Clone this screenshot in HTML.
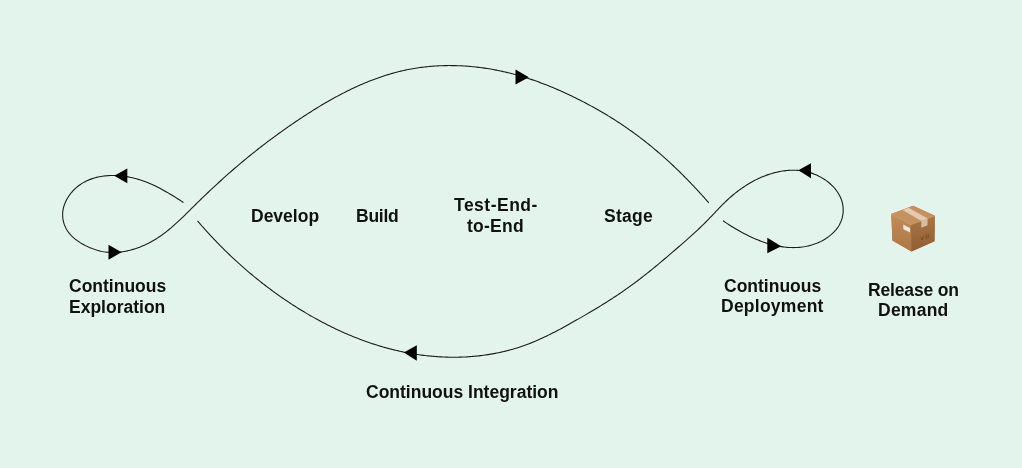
<!DOCTYPE html>
<html><head><meta charset="utf-8"><style>
html,body{margin:0;padding:0;}
body{width:1022px;height:468px;background:#e3f4ec;position:relative;overflow:hidden;font-family:"Liberation Sans",sans-serif;}
svg{position:absolute;left:0;top:0;}
.t{position:absolute;font-weight:bold;font-size:17.5px;line-height:21px;color:#111111;white-space:nowrap;will-change:transform;}
</style></head><body>
<svg width="1022" height="468" viewBox="0 0 1022 468">
<path d="M183.50 202.58L182.23 201.74L180.97 200.91L179.70 200.08L178.44 199.26L177.16 198.44L175.89 197.62L174.61 196.82L173.33 196.02L172.05 195.23L170.76 194.44L169.47 193.67L168.18 192.90L166.88 192.15L165.58 191.40L164.27 190.66L162.96 189.94L161.64 189.23L160.32 188.52L159.00 187.84L157.67 187.16L156.33 186.50L154.99 185.85L153.64 185.22L152.28 184.60L150.92 184.00L149.56 183.41L148.18 182.84L146.80 182.29L145.42 181.75L144.02 181.23L142.62 180.74L141.21 180.26L139.80 179.80L138.37 179.36L136.94 178.94L135.50 178.54L134.05 178.16L132.60 177.81L131.13 177.48L129.66 177.17L128.17 176.88L126.68 176.62L125.18 176.39L123.68 176.18L122.17 175.99L120.65 175.84L119.13 175.71L117.61 175.60L116.08 175.53L114.56 175.48L113.04 175.46L111.51 175.48L110.00 175.52L108.48 175.59L106.97 175.70L105.46 175.84L103.96 176.01L102.47 176.21L100.98 176.45L99.51 176.72L98.05 177.03L96.59 177.37L95.15 177.75L93.73 178.16L92.31 178.62L90.92 179.11L89.54 179.63L88.17 180.20L86.83 180.81L85.50 181.45L84.20 182.14L82.92 182.87L81.66 183.64L80.42 184.45L79.21 185.31L78.02 186.21L76.86 187.15L75.72 188.14L74.62 189.17L73.54 190.24L72.50 191.36L71.50 192.52L70.53 193.71L69.61 194.94L68.73 196.20L67.90 197.50L67.11 198.81L66.38 200.16L65.71 201.53L65.10 202.92L64.54 204.33L64.05 205.75L63.63 207.19L63.28 208.64L63.00 210.10L62.80 211.57L62.67 213.04L62.63 214.52L62.66 215.99L62.76 217.46L62.94 218.92L63.20 220.37L63.53 221.81L63.92 223.23L64.39 224.63L64.92 226.00L65.53 227.35L66.19 228.67L66.93 229.96L67.72 231.20L68.58 232.41L69.50 233.58L70.47 234.71L71.49 235.79L72.57 236.84L73.69 237.85L74.85 238.82L76.05 239.76L77.28 240.66L78.55 241.53L79.84 242.37L81.15 243.18L82.48 243.96L83.83 244.71L85.19 245.43L86.57 246.12L87.95 246.78L89.35 247.41L90.75 248.00L92.16 248.57L93.59 249.10L95.01 249.59L96.45 250.05L97.89 250.46L99.34 250.84L100.79 251.18L102.25 251.48L103.71 251.74L105.17 251.96L106.63 252.14L108.10 252.28L109.57 252.38L111.04 252.44L112.52 252.47L113.99 252.47L115.47 252.42L116.94 252.35L118.42 252.24L119.89 252.09L121.37 251.91L122.84 251.70L124.32 251.46L125.79 251.19L127.26 250.89L128.72 250.56L130.18 250.20L131.64 249.81L133.09 249.39L134.54 248.94L135.98 248.47L137.41 247.98L138.84 247.46L140.26 246.91L141.66 246.34L143.06 245.75L144.45 245.13L145.83 244.50L147.20 243.84L148.56 243.16L149.90 242.46L151.24 241.74L152.55 241.00L153.86 240.25L155.15 239.48L156.42 238.69L157.68 237.88L158.93 237.06L160.16 236.23L161.38 235.38L162.59 234.51L163.79 233.63L164.97 232.74L166.15 231.84L167.31 230.92L168.47 229.99L169.62 229.05L170.75 228.10L171.88 227.14L173.00 226.17L174.11 225.20L175.22 224.21L176.32 223.21L177.41 222.21L178.50 221.20L179.59 220.18L180.67 219.16L181.74 218.13L182.81 217.10L183.88 216.06L184.95 215.02L186.01 213.98L187.07 212.93L188.13 211.88L189.19 210.83L190.25 209.77L191.31 208.72L192.37 207.67L193.43 206.61L194.50 205.56L195.56 204.50L196.63 203.45L197.70 202.40L198.77 201.35L199.85 200.31L200.93 199.26L202.01 198.22L203.09 197.17L204.17 196.13L205.26 195.09L206.35 194.06L207.44 193.02L208.53 191.98L209.62 190.95L210.72 189.92L211.82 188.89L212.92 187.86L214.02 186.84L215.12 185.82L216.23 184.80L217.34 183.78L218.45 182.76L219.56 181.74L220.68 180.73L221.79 179.72L222.91 178.71L224.03 177.71L225.15 176.70L226.28 175.70L227.40 174.70L228.53 173.71L229.66 172.71L230.79 171.72L231.93 170.73L233.06 169.75L234.20 168.76L235.34 167.78L236.48 166.81L237.62 165.83L238.76 164.86L239.91 163.89L241.06 162.92L242.21 161.96L243.36 161.00L244.51 160.04L245.66 159.09L246.82 158.14L247.98 157.19L249.14 156.24L250.30 155.30L251.46 154.36L252.62 153.43L253.79 152.49L254.96 151.56L256.13 150.64L257.30 149.71L258.47 148.79L259.64 147.87L260.82 146.96L262.00 146.05L263.18 145.14L264.36 144.23L265.55 143.33L266.73 142.43L267.92 141.53L269.11 140.63L270.31 139.74L271.50 138.85L272.70 137.97L273.90 137.08L275.10 136.20L276.30 135.32L277.51 134.44L278.72 133.57L279.93 132.70L281.14 131.83L282.35 130.96L283.57 130.09L284.79 129.23L286.01 128.37L287.24 127.52L288.46 126.66L289.69 125.81L290.93 124.96L292.16 124.11L293.40 123.26L294.64 122.42L295.88 121.58L297.13 120.74L298.38 119.90L299.63 119.06L300.88 118.23L302.14 117.40L303.39 116.57L304.66 115.75L305.92 114.93L307.19 114.11L308.46 113.30L309.73 112.48L311.00 111.68L312.28 110.87L313.56 110.07L314.84 109.27L316.13 108.48L317.41 107.69L318.70 106.90L320.00 106.12L321.29 105.34L322.59 104.57L323.89 103.80L325.20 103.03L326.50 102.27L327.81 101.52L329.12 100.77L330.44 100.02L331.75 99.28L333.07 98.55L334.40 97.82L335.72 97.09L337.05 96.38L338.38 95.66L339.71 94.95L341.05 94.25L342.39 93.56L343.73 92.87L345.07 92.18L346.42 91.51L347.76 90.84L349.12 90.17L350.47 89.51L351.83 88.86L353.19 88.22L354.55 87.58L355.91 86.95L357.28 86.33L358.65 85.71L360.02 85.10L361.40 84.50L362.77 83.91L364.15 83.32L365.54 82.74L366.92 82.17L368.31 81.61L369.70 81.06L371.10 80.51L372.49 79.97L373.89 79.44L375.29 78.92L376.70 78.41L378.10 77.91L379.51 77.41L380.92 76.93L382.34 76.45L383.76 75.98L385.18 75.52L386.60 75.07L388.02 74.63L389.45 74.21L390.88 73.78L392.31 73.37L393.75 72.97L395.19 72.58L396.63 72.20L398.07 71.83L399.52 71.47L400.97 71.12L402.42 70.79L403.87 70.46L405.33 70.14L406.79 69.83L408.25 69.54L409.72 69.25L411.18 68.98L412.65 68.72L414.12 68.47L415.60 68.22L417.07 67.99L418.55 67.77L420.03 67.57L421.52 67.37L423.00 67.18L424.49 67.00L425.97 66.84L427.46 66.68L428.95 66.53L430.44 66.40L431.94 66.27L433.43 66.16L434.93 66.06L436.43 65.96L437.93 65.88L439.42 65.81L440.93 65.74L442.43 65.69L443.93 65.65L445.43 65.61L446.93 65.59L448.44 65.57L449.94 65.57L451.45 65.58L452.95 65.59L454.46 65.62L455.96 65.66L457.47 65.70L458.97 65.76L460.48 65.82L461.98 65.89L463.49 65.98L464.99 66.07L466.50 66.17L468.00 66.28L469.51 66.41L471.01 66.54L472.51 66.68L474.01 66.82L475.51 66.98L477.01 67.15L478.51 67.33L480.01 67.51L481.50 67.71L483.00 67.91L484.49 68.12L485.98 68.34L487.47 68.57L488.96 68.81L490.45 69.06L491.93 69.32L493.42 69.58L494.90 69.86L496.38 70.14L497.86 70.43L499.33 70.73L500.81 71.04L502.28 71.35L503.75 71.68L505.21 72.01L506.68 72.35L508.14 72.70L509.60 73.06L511.06 73.43L512.51 73.80L513.96 74.19L515.41 74.58L516.85 74.97L518.30 75.38L519.73 75.80L521.17 76.22L522.61 76.65L524.04 77.08L525.47 77.53L526.89 77.98L528.32 78.44L529.74 78.91L531.16 79.38L532.58 79.86L533.99 80.35L535.40 80.84L536.81 81.34L538.22 81.85L539.62 82.36L541.02 82.89L542.42 83.41L543.82 83.95L545.21 84.49L546.61 85.03L548.00 85.59L549.38 86.15L550.77 86.71L552.15 87.28L553.53 87.86L554.91 88.44L556.29 89.03L557.66 89.62L559.03 90.22L560.40 90.83L561.77 91.44L563.13 92.05L564.50 92.68L565.86 93.30L567.21 93.93L568.57 94.57L569.92 95.21L571.28 95.86L572.63 96.51L573.97 97.16L575.32 97.82L576.66 98.49L578.01 99.16L579.35 99.83L580.68 100.51L582.02 101.19L583.35 101.88L584.68 102.58L586.01 103.27L587.34 103.97L588.66 104.68L589.98 105.39L591.30 106.11L592.62 106.83L593.93 107.56L595.24 108.29L596.55 109.02L597.86 109.76L599.16 110.50L600.46 111.25L601.76 112.01L603.05 112.77L604.34 113.53L605.63 114.30L606.92 115.07L608.20 115.85L609.48 116.63L610.76 117.42L612.04 118.21L613.31 119.01L614.58 119.82L615.84 120.62L617.10 121.44L618.36 122.25L619.62 123.07L620.87 123.90L622.12 124.73L623.36 125.57L624.60 126.41L625.84 127.26L627.08 128.11L628.31 128.97L629.54 129.83L630.76 130.70L631.98 131.57L633.20 132.45L634.41 133.33L635.62 134.22L636.83 135.11L638.03 136.01L639.23 136.91L640.42 137.82L641.62 138.73L642.80 139.64L643.99 140.56L645.17 141.49L646.34 142.42L647.52 143.35L648.69 144.29L649.85 145.24L651.02 146.19L652.18 147.14L653.33 148.10L654.48 149.06L655.63 150.02L656.78 150.99L657.92 151.97L659.06 152.94L660.19 153.93L661.32 154.91L662.45 155.90L663.58 156.90L664.70 157.89L665.81 158.90L666.93 159.90L668.04 160.91L669.14 161.93L670.25 162.94L671.35 163.96L672.45 164.99L673.54 166.02L674.63 167.05L675.72 168.08L676.80 169.12L677.88 170.17L678.96 171.21L680.03 172.26L681.10 173.31L682.17 174.37L683.23 175.43L684.29 176.49L685.35 177.56L686.40 178.62L687.45 179.70L688.50 180.77L689.54 181.85L690.58 182.93L691.62 184.01L692.65 185.10L693.68 186.19L694.71 187.28L695.73 188.37L696.76 189.47L697.77 190.57L698.79 191.67L699.80 192.78L700.81 193.89L701.81 195.00L702.81 196.11L703.81 197.23L704.81 198.34L705.80 199.46L706.79 200.59L707.78 201.71L708.76 202.84" fill="none" stroke="#1c1c1c" stroke-width="1.1" stroke-linecap="butt" stroke-linejoin="round"/>
<path d="M723.00 220.77L724.16 221.56L725.32 222.34L726.51 223.13L727.70 223.91L728.91 224.70L730.13 225.47L731.36 226.25L732.61 227.02L733.86 227.79L735.13 228.55L736.41 229.30L737.70 230.05L739.00 230.79L740.32 231.52L741.64 232.25L742.97 232.96L744.31 233.67L745.66 234.36L747.02 235.05L748.39 235.72L749.76 236.38L751.14 237.03L752.54 237.66L753.93 238.29L755.34 238.89L756.75 239.48L758.17 240.06L759.59 240.62L761.02 241.16L762.46 241.68L763.90 242.19L765.34 242.68L766.79 243.15L768.25 243.60L769.71 244.02L771.17 244.43L772.63 244.82L774.10 245.18L775.57 245.52L777.05 245.84L778.52 246.13L780.00 246.40L781.48 246.64L782.96 246.85L784.44 247.04L785.92 247.20L787.40 247.34L788.88 247.44L790.36 247.52L791.85 247.57L793.33 247.59L794.80 247.57L796.28 247.53L797.76 247.45L799.23 247.34L800.70 247.20L802.17 247.02L803.63 246.81L805.10 246.56L806.55 246.28L808.01 245.96L809.46 245.61L810.90 245.21L812.34 244.78L813.78 244.31L815.21 243.81L816.63 243.26L818.04 242.67L819.44 242.04L820.83 241.38L822.20 240.68L823.54 239.94L824.87 239.16L826.17 238.34L827.44 237.49L828.68 236.60L829.89 235.67L831.06 234.70L832.20 233.70L833.29 232.67L834.34 231.60L835.34 230.49L836.30 229.35L837.20 228.17L838.04 226.96L838.84 225.71L839.57 224.44L840.24 223.12L840.84 221.78L841.38 220.40L841.85 218.98L842.24 217.55L842.57 216.09L842.83 214.61L843.02 213.13L843.14 211.63L843.18 210.14L843.16 208.65L843.06 207.17L842.89 205.71L842.65 204.26L842.34 202.83L841.96 201.42L841.52 200.03L841.01 198.67L840.45 197.33L839.82 196.01L839.13 194.71L838.39 193.44L837.60 192.19L836.75 190.97L835.86 189.78L834.92 188.62L833.93 187.49L832.90 186.38L831.83 185.31L830.72 184.26L829.58 183.25L828.40 182.27L827.18 181.33L825.94 180.42L824.67 179.54L823.37 178.70L822.05 177.90L820.70 177.13L819.33 176.40L817.95 175.72L816.55 175.07L815.14 174.46L813.71 173.89L812.27 173.37L810.83 172.89L809.38 172.45L807.92 172.05L806.45 171.70L804.99 171.38L803.51 171.11L802.03 170.87L800.55 170.67L799.07 170.51L797.58 170.39L796.09 170.30L794.60 170.25L793.11 170.24L791.61 170.26L790.12 170.31L788.63 170.39L787.14 170.51L785.65 170.66L784.17 170.84L782.69 171.05L781.21 171.29L779.73 171.56L778.26 171.85L776.80 172.17L775.34 172.52L773.89 172.90L772.44 173.30L771.01 173.72L769.58 174.17L768.16 174.64L766.74 175.14L765.34 175.66L763.94 176.20L762.56 176.76L761.18 177.34L759.81 177.94L758.45 178.56L757.10 179.21L755.76 179.87L754.43 180.55L753.11 181.26L751.80 181.98L750.49 182.72L749.20 183.47L747.91 184.25L746.64 185.04L745.37 185.85L744.12 186.67L742.87 187.51L741.64 188.37L740.41 189.24L739.20 190.13L737.99 191.03L736.80 191.94L735.61 192.87L734.44 193.81L733.27 194.77L732.12 195.74L730.97 196.72L729.84 197.71L728.72 198.71L727.61 199.73L726.51 200.75L725.42 201.79L724.34 202.84L723.27 203.89L722.21 204.95L721.15 206.02L720.11 207.10L719.07 208.18L718.03 209.26L717.00 210.35L715.96 211.44L714.94 212.53L713.91 213.62L712.88 214.72L711.85 215.80L710.81 216.89L709.78 217.97L708.73 219.05L707.69 220.12L706.64 221.19L705.58 222.25L704.51 223.31L703.45 224.36L702.37 225.40L701.29 226.44L700.21 227.48L699.12 228.51L698.03 229.54L696.94 230.56L695.84 231.58L694.74 232.60L693.63 233.61L692.53 234.62L691.41 235.62L690.30 236.63L689.18 237.63L688.06 238.62L686.94 239.62L685.82 240.61L684.69 241.60L683.56 242.59L682.43 243.58L681.30 244.57L680.17 245.55L679.03 246.54L677.90 247.52L676.76 248.50L675.63 249.48L674.49 250.47L673.35 251.45L672.21 252.43L671.07 253.41L669.93 254.39L668.78 255.36L667.64 256.34L666.49 257.31L665.35 258.29L664.20 259.26L663.05 260.23L661.90 261.20L660.75 262.17L659.59 263.13L658.44 264.09L657.28 265.05L656.12 266.01L654.96 266.97L653.79 267.92L652.63 268.87L651.46 269.82L650.29 270.76L649.12 271.71L647.95 272.65L646.77 273.58L645.59 274.51L644.41 275.44L643.23 276.37L642.05 277.29L640.86 278.21L639.67 279.13L638.48 280.04L637.28 280.94L636.08 281.85L634.88 282.75L633.68 283.64L632.47 284.53L631.26 285.42L630.05 286.30L628.84 287.17L627.62 288.04L626.40 288.91L625.17 289.77L623.94 290.63L622.71 291.48L621.48 292.33L620.24 293.17L619.01 294.01L617.76 294.85L616.52 295.68L615.27 296.51L614.02 297.33L612.77 298.15L611.52 298.96L610.26 299.78L609.00 300.58L607.74 301.39L606.47 302.19L605.21 302.99L603.94 303.78L602.67 304.57L601.39 305.36L600.12 306.15L598.84 306.93L597.56 307.71L596.28 308.48L594.99 309.26L593.71 310.03L592.42 310.80L591.13 311.56L589.84 312.33L588.54 313.09L587.25 313.85L585.95 314.61L584.65 315.36L583.35 316.12L582.05 316.87L580.75 317.62L579.44 318.36L578.14 319.11L576.83 319.85L575.52 320.60L574.21 321.34L572.90 322.08L571.59 322.82L570.27 323.56L568.96 324.29L567.64 325.02L566.32 325.75L565.00 326.48L563.68 327.21L562.35 327.93L561.02 328.64L559.70 329.36L558.37 330.06L557.03 330.77L555.70 331.47L554.36 332.16L553.02 332.85L551.68 333.53L550.33 334.21L548.99 334.87L547.64 335.54L546.28 336.19L544.93 336.84L543.57 337.48L542.21 338.12L540.84 338.74L539.47 339.36L538.10 339.97L536.73 340.57L535.35 341.16L533.97 341.74L532.58 342.32L531.19 342.88L529.80 343.43L528.41 343.97L527.01 344.50L525.60 345.02L524.19 345.53L522.78 346.02L521.37 346.51L519.95 346.98L518.52 347.45L517.10 347.90L515.67 348.34L514.23 348.77L512.79 349.19L511.35 349.59L509.91 349.99L508.46 350.37L507.01 350.75L505.56 351.11L504.11 351.46L502.65 351.81L501.19 352.14L499.72 352.46L498.26 352.77L496.79 353.06L495.32 353.35L493.84 353.63L492.37 353.90L490.89 354.15L489.41 354.40L487.93 354.63L486.44 354.86L484.96 355.07L483.47 355.28L481.98 355.47L480.49 355.65L479.00 355.83L477.50 355.99L476.01 356.14L474.51 356.29L473.01 356.42L471.52 356.54L470.02 356.65L468.52 356.75L467.01 356.85L465.51 356.93L464.01 357.00L462.51 357.06L461.00 357.12L459.50 357.16L457.99 357.19L456.49 357.22L454.98 357.23L453.47 357.23L451.97 357.23L450.46 357.21L448.96 357.19L447.45 357.15L445.95 357.11L444.44 357.06L442.94 356.99L441.43 356.92L439.93 356.84L438.43 356.75L436.92 356.65L435.42 356.54L433.92 356.42L432.42 356.29L430.92 356.16L429.43 356.01L427.93 355.85L426.43 355.69L424.94 355.52L423.45 355.34L421.96 355.14L420.47 354.95L418.98 354.74L417.50 354.52L416.01 354.29L414.53 354.06L413.05 353.81L411.57 353.56L410.09 353.30L408.62 353.03L407.15 352.75L405.67 352.47L404.21 352.17L402.74 351.87L401.27 351.56L399.81 351.24L398.35 350.91L396.89 350.58L395.43 350.23L393.97 349.88L392.52 349.52L391.07 349.15L389.62 348.78L388.17 348.39L386.73 348.00L385.28 347.60L383.84 347.20L382.40 346.78L380.96 346.36L379.53 345.93L378.10 345.49L376.67 345.05L375.24 344.60L373.81 344.14L372.39 343.67L370.96 343.20L369.55 342.72L368.13 342.23L366.71 341.73L365.30 341.23L363.89 340.72L362.48 340.20L361.08 339.68L359.67 339.15L358.27 338.61L356.87 338.07L355.48 337.52L354.08 336.96L352.69 336.40L351.31 335.83L349.92 335.25L348.54 334.67L347.15 334.08L345.78 333.48L344.40 332.88L343.03 332.27L341.66 331.65L340.29 331.03L338.92 330.41L337.56 329.77L336.20 329.13L334.84 328.49L333.49 327.83L332.14 327.18L330.79 326.51L329.44 325.84L328.10 325.17L326.75 324.49L325.42 323.80L324.08 323.11L322.75 322.41L321.42 321.71L320.09 321.00L318.77 320.29L317.45 319.57L316.13 318.85L314.81 318.12L313.50 317.38L312.19 316.64L310.88 315.90L309.58 315.15L308.28 314.39L306.98 313.63L305.69 312.86L304.40 312.09L303.11 311.32L301.82 310.54L300.54 309.75L299.26 308.97L297.98 308.17L296.71 307.37L295.44 306.57L294.18 305.76L292.91 304.95L291.65 304.13L290.40 303.31L289.14 302.49L287.89 301.66L286.64 300.82L285.40 299.98L284.16 299.14L282.92 298.29L281.68 297.44L280.45 296.58L279.22 295.72L278.00 294.85L276.78 293.98L275.56 293.11L274.34 292.23L273.13 291.34L271.92 290.46L270.72 289.56L269.51 288.67L268.31 287.77L267.12 286.86L265.92 285.95L264.73 285.04L263.55 284.12L262.37 283.20L261.19 282.28L260.01 281.35L258.84 280.41L257.67 279.48L256.50 278.53L255.34 277.59L254.18 276.64L253.02 275.68L251.86 274.73L250.71 273.76L249.57 272.80L248.42 271.83L247.28 270.85L246.15 269.88L245.01 268.89L243.88 267.91L242.76 266.92L241.63 265.92L240.51 264.93L239.40 263.93L238.28 262.92L237.17 261.91L236.07 260.90L234.96 259.88L233.86 258.86L232.77 257.84L231.67 256.81L230.58 255.78L229.50 254.75L228.41 253.71L227.33 252.67L226.26 251.62L225.19 250.57L224.12 249.52L223.05 248.46L221.99 247.40L220.93 246.34L219.87 245.27L218.82 244.20L217.77 243.13L216.73 242.05L215.69 240.97L214.65 239.89L213.61 238.80L212.58 237.71L211.55 236.61L210.53 235.52L209.51 234.41L208.49 233.31L207.48 232.20L206.47 231.09L205.46 229.98L204.46 228.86L203.46 227.74L202.46 226.61L201.47 225.49L200.48 224.36L199.49 223.22L198.51 222.09L197.53 220.95" fill="none" stroke="#1c1c1c" stroke-width="1.1" stroke-linecap="butt" stroke-linejoin="round"/>
<path d="M528.8 77.3L515.5 69.6L515.5 84.4Z" fill="#000"/><path d="M403.8 352.6L416.8 345.15L416.8 360.85Z" fill="#000"/><path d="M114.2 175.7L127.3 168.45000000000002L127.3 183.35Z" fill="#000"/><path d="M121.5 252.3L108.5 244.7L108.5 259.7Z" fill="#000"/><path d="M798.3 170.3L811.0 163.25L811.0 178.35000000000002Z" fill="#000"/><path d="M781.2 246.3L767.3 237.65L767.3 253.35Z" fill="#000"/>
<g>
<path d="M891.3 214 L913.1 205.8 L934.8 215.8 L934.5 241.3 L911.5 251.6 L892.4 240.5 Z" fill="none" stroke="#f4efe6" stroke-width="1.6" stroke-linejoin="round"/>
<defs><linearGradient id="gl" x1="0" y1="0" x2="0" y2="1"><stop offset="0" stop-color="#c38c59"/><stop offset="1" stop-color="#ab7546"/></linearGradient><linearGradient id="gr" x1="0" y1="0" x2="0" y2="1"><stop offset="0" stop-color="#a97646"/><stop offset="1" stop-color="#8f5e33"/></linearGradient></defs>
<path d="M891.3 214 L913.1 205.8 L934.8 215.8 L934.5 241.3 L911.5 251.6 L892.4 240.5 Z" fill="#a8733f"/>
<path d="M891.3 214 L913.1 205.8 L934.8 215.8 L911 224.6 Z" fill="#c49161"/>
<path d="M891.3 214 L911 224.6 L911.5 251.6 L892.4 240.5 Z" fill="url(#gl)"/>
<path d="M911 224.6 L934.8 215.8 L934.5 241.3 L911.5 251.6 Z" fill="url(#gr)"/>
<path d="M891.3 214 L911 224.6 L934.8 215.8" fill="none" stroke="#d9ab78" stroke-width="0.6"/>
<path d="M902.6 210 L908.6 207.8 L927.6 218.6 L921.4 220.9 Z" fill="#e3cab0"/>
<path d="M921.4 220.9 L927.6 218.6 L927.5 225.3 L921.3 227.8 Z" fill="#d9bc9e"/>
<path d="M903.2 224.6 L909.9 228 L910 232.6 L903.4 229.3 Z" fill="#ece6df"/>
<path d="M920.6 236.8 l1.6 3.2 l1.6 -4.2 M926.2 234.6 l0 4.6 M928.2 233.8 l0 4.6" stroke="#6e4320" stroke-width="0.9" fill="none" opacity="0.8"/>
</g>

</svg>
<div class="t" style="left:251.1px;top:206px;letter-spacing:0.0px">Develop</div>
<div class="t" style="left:356.4px;top:206px;letter-spacing:-0.25px">Build</div>
<div class="t" style="left:454.0px;top:195px;letter-spacing:0.5px">Test-End-</div>
<div class="t" style="left:467.0px;top:216px;letter-spacing:0.25px">to-End</div>
<div class="t" style="left:604.4px;top:206px;letter-spacing:0.25px">Stage</div>
<div class="t" style="left:68.7px;top:276px;letter-spacing:0.0px">Continuous</div>
<div class="t" style="left:69.4px;top:297px;letter-spacing:0.0px">Exploration</div>
<div class="t" style="left:723.7px;top:276px;letter-spacing:0.0px">Continuous</div>
<div class="t" style="left:721.2px;top:296px;letter-spacing:0.25px">Deployment</div>
<div class="t" style="left:867.5px;top:280px;letter-spacing:-0.15px">Release on</div>
<div class="t" style="left:877.8px;top:300px;letter-spacing:0.25px">Demand</div>
<div class="t" style="left:365.9px;top:382px;letter-spacing:0.0px">Continuous Integration</div>

</body></html>
